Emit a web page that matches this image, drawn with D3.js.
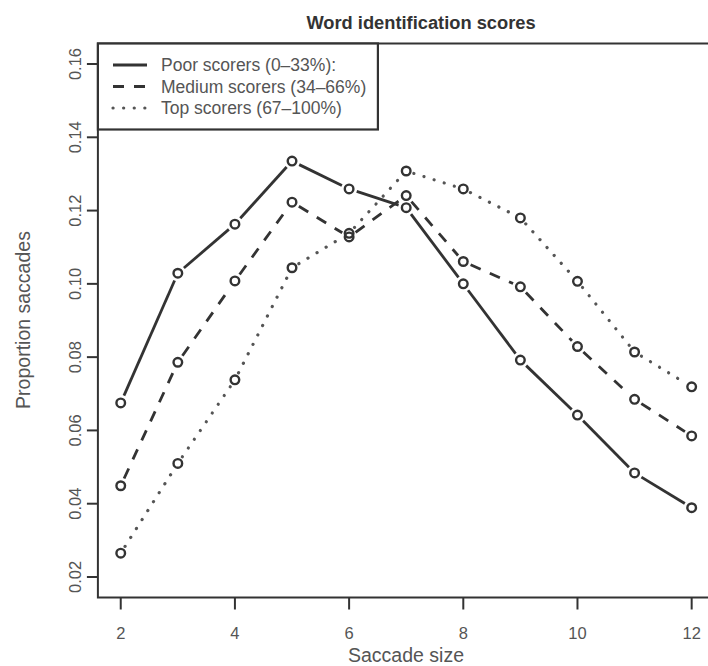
<!DOCTYPE html>
<html>
<head>
<meta charset="utf-8">
<script src="https://cdn.jsdelivr.net/npm/d3@7"></script>
<style>
  body { margin: 0; background: #fff; }
  svg { display: block; font-family: "Liberation Sans", Arial, sans-serif; }
</style>
</head>
<body>
<script>
// saccade sizes
var sizes = [2, 3, 4, 5, 6, 7, 8, 9, 10, 11, 12];
var poor   = [0.0675, 0.1029, 0.1163, 0.1335, 0.1259, 0.1208, 0.1000, 0.0792, 0.0642, 0.0484, 0.0389];
var medium = [0.0449, 0.0786, 0.1008, 0.1223, 0.1128, 0.1241, 0.1061, 0.0992, 0.0829, 0.0685, 0.0585];
var top_   = [0.0265, 0.0510, 0.0738, 0.1044, 0.1138, 0.1308, 0.1259, 0.1180, 0.1007, 0.0814, 0.0719];
var seriesNames = ["Poor scorers (0\u201333%):", "Medium scorers (34\u201366%)", "Top scorers (67\u2013100%)"];
var xTicks = [2, 4, 6, 8, 10, 12];
var yTicks = [0.02, 0.04, 0.06, 0.08, 0.10, 0.12, 0.14, 0.16];

var width = 708, height = 666;
var ink = "#333";

var svg = d3.select("body").append("svg")
	.attr("width", width)
	.attr("height", height);

// R style 4% padding on both axes
var x = d3.scaleLinear().domain([1.6, 12.4]).range([97.9, 714.5]);
var y = d3.scaleLinear().domain([0.0144, 0.1656]).range([597.5, 43.5]);

var styles = [
	{ dash: null, color: ink, cap: "butt" },
	{ dash: "11,10", color: ink, cap: "butt" },
	{ dash: "0.1,10.5", color: "#555", cap: "round" }
];

// plot box
svg.append("rect")
	.attr("x", x.range()[0]).attr("y", y.range()[1])
	.attr("width", x.range()[1] - x.range()[0])
	.attr("height", y.range()[0] - y.range()[1])
	.attr("fill", "none").attr("stroke", ink).attr("stroke-width", 2);

// y axis
var yAxis = svg.append("g");
yAxis.selectAll("line").data(yTicks).enter().append("line")
	.attr("x1", x.range()[0] - 11).attr("x2", x.range()[0])
	.attr("y1", function(d) { return y(d); }).attr("y2", function(d) { return y(d); })
	.attr("stroke", ink).attr("stroke-width", 2);
yAxis.selectAll("text").data(yTicks).enter().append("text")
	.attr("transform", function(d) { return "translate(81," + y(d) + ") rotate(-90)"; })
	.attr("text-anchor", "middle")
	.attr("font-size", 16.5)
	.attr("fill", "#555")
	.text(function(d) { return d.toFixed(2); });

// x axis
var xAxis = svg.append("g");
xAxis.selectAll("line").data(xTicks).enter().append("line")
	.attr("x1", function(d) { return x(d); }).attr("x2", function(d) { return x(d); })
	.attr("y1", y.range()[0]).attr("y2", y.range()[0] + 12)
	.attr("stroke", ink).attr("stroke-width", 2);
xAxis.selectAll("text").data(xTicks).enter().append("text")
	.attr("x", function(d) { return x(d); })
	.attr("y", 639)
	.attr("text-anchor", "middle")
	.attr("font-size", 16.5)
	.attr("fill", "#555")
	.text(function(d) { return d; });

svg.append("text")
	.attr("x", 406).attr("y", 662)
	.attr("text-anchor", "middle")
	.attr("font-size", 19.5)
	.attr("fill", "#555")
	.text("Saccade size");

svg.append("text")
	.attr("transform", "translate(30,320) rotate(-90)")
	.attr("text-anchor", "middle")
	.attr("font-size", 19.5)
	.attr("fill", "#555")
	.text("Proportion saccades");

svg.append("text")
	.attr("x", 421).attr("y", 29)
	.attr("text-anchor", "middle")
	.attr("font-size", 18.3)
	.attr("font-weight", "bold")
	.attr("fill", ink)
	.text("Word identification scores");

// lines with gaps around points (type = "b")
var allSeries = [poor, medium, top_];
var gap = 8;
allSeries.forEach(function(vals, si) {
	var st = styles[si];
	var g = svg.append("g");
	for (var i = 0; i < sizes.length - 1; i++) {
		var x1 = x(sizes[i]), y1 = y(vals[i]), x2 = x(sizes[i + 1]), y2 = y(vals[i + 1]);
		var len = Math.sqrt((x2 - x1) * (x2 - x1) + (y2 - y1) * (y2 - y1));
		if (len <= 2 * gap) continue;
		var ux = (x2 - x1) / len, uy = (y2 - y1) / len;
		g.append("line")
			.attr("x1", x1 + ux * gap).attr("y1", y1 + uy * gap)
			.attr("x2", x2 - ux * gap).attr("y2", y2 - uy * gap)
			.attr("stroke", st.color)
			.attr("stroke-width", st.cap === "round" ? 3.2 : 2.8)
			.attr("stroke-linecap", st.cap)
			.attr("stroke-dasharray", st.dash);
	}
	g.selectAll("circle").data(vals).enter().append("circle")
		.attr("cx", function(d, i) { return x(sizes[i]); })
		.attr("cy", function(d) { return y(d); })
		.attr("r", 4.3)
		.attr("fill", "none")
		.attr("stroke", ink)
		.attr("stroke-width", 2.4);
});

// legend
var legend = svg.append("g");
legend.append("rect")
	.attr("x", x.range()[0]).attr("y", y.range()[1])
	.attr("width", 280).attr("height", 86)
	.attr("fill", "#fff").attr("stroke", ink).attr("stroke-width", 2.2);
seriesNames.forEach(function(name, i) {
	var st = styles[i];
	var ly = 65 + i * 21.5;
	legend.append("line")
		.attr("x1", 113).attr("x2", 147)
		.attr("y1", ly).attr("y2", ly)
		.attr("stroke", st.color)
		.attr("stroke-width", st.cap === "round" ? 3.2 : 2.8)
		.attr("stroke-linecap", st.cap)
		.attr("stroke-dasharray", st.dash);
	legend.append("text")
		.attr("x", 161).attr("y", ly + 6)
		.attr("font-size", 17.5)
		.attr("fill", "#555")
		.text(name);
});
</script>
</body>
</html>
